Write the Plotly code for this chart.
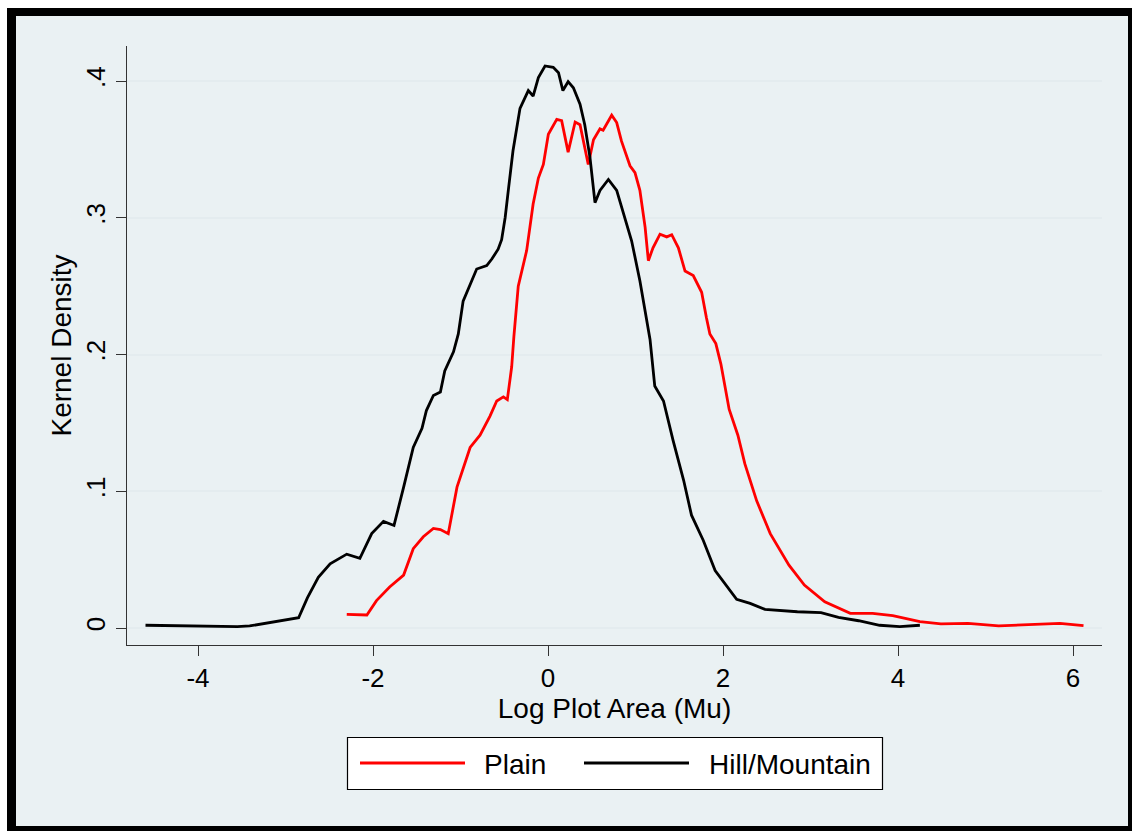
import plotly.graph_objects as go

# ---- data ----
plain_x = [-2.30, -2.07, -1.96, -1.81, -1.65, -1.54, -1.425, -1.31, -1.23, -1.14,
           -1.04, -0.89, -0.777, -0.663, -0.586, -0.51, -0.465, -0.415, -0.39, -0.358,
           -0.34, -0.244, -0.17, -0.11, -0.053, 0.004, 0.10, 0.156, 0.23, 0.31,
           0.366, 0.46, 0.52, 0.594, 0.63, 0.728, 0.785, 0.84, 0.937, 0.994,
           1.05, 1.11, 1.147, 1.20, 1.28, 1.357, 1.414, 1.49, 1.566, 1.66,
           1.756, 1.81, 1.85, 1.918, 1.976, 2.07, 2.17, 2.25, 2.385, 2.54,
           2.754, 2.93, 3.163, 3.455, 3.71, 3.94, 4.25, 4.49, 4.80, 5.15,
           5.34, 5.655, 5.85, 6.12]
plain_y = [0.010, 0.0095, 0.020, 0.030, 0.0387, 0.058, 0.0667, 0.0728, 0.072, 0.069,
           0.103, 0.132, 0.141, 0.155, 0.166, 0.169, 0.167, 0.191, 0.213, 0.239,
           0.250, 0.276, 0.310, 0.329, 0.339, 0.361, 0.372, 0.371, 0.348, 0.370,
           0.368, 0.339, 0.357, 0.365, 0.364, 0.375, 0.3696, 0.356, 0.338, 0.333,
           0.320, 0.293, 0.2686, 0.278, 0.288, 0.286, 0.2876, 0.278, 0.261, 0.2577,
           0.2455, 0.227, 0.215, 0.208, 0.193, 0.160, 0.141, 0.120, 0.093, 0.069,
           0.046, 0.0314, 0.0192, 0.0107, 0.0107, 0.009, 0.0046, 0.003, 0.0034, 0.0015,
           0.002, 0.003, 0.0034, 0.0017]

hill_x = [-4.60, -4.20, -3.90, -3.55, -3.41, -3.10, -2.85, -2.75, -2.625, -2.49,
          -2.30, -2.15, -2.015, -1.88, -1.76, -1.65, -1.54, -1.44, -1.39, -1.31,
          -1.23, -1.18, -1.08, -1.025, -0.97, -0.815, -0.70, -0.64, -0.57, -0.53,
          -0.49, -0.45, -0.40, -0.32, -0.225, -0.17, -0.11, -0.034, 0.06, 0.12,
          0.17, 0.23, 0.29, 0.366, 0.42, 0.48, 0.537, 0.594, 0.69, 0.785,
          0.88, 0.956, 1.05, 1.166, 1.22, 1.32, 1.43, 1.55, 1.64, 1.775,
          1.91, 2.02, 2.156, 2.31, 2.48, 2.85, 3.12, 3.32, 3.55, 3.79,
          4.02, 4.25]
hill_y = [0.002, 0.0015, 0.0015, 0.001, 0.0015, 0.005, 0.0075, 0.022, 0.037, 0.047,
          0.054, 0.051, 0.069, 0.078, 0.075, 0.103, 0.132, 0.146, 0.159, 0.170,
          0.1725, 0.188, 0.202, 0.215, 0.239, 0.2625, 0.265, 0.270, 0.277, 0.284,
          0.300, 0.322, 0.349, 0.380, 0.393, 0.389, 0.4025, 0.411, 0.410, 0.406,
          0.393, 0.3995, 0.395, 0.383, 0.368, 0.344, 0.311, 0.320, 0.328, 0.320,
          0.300, 0.283, 0.254, 0.211, 0.177, 0.166, 0.137, 0.108, 0.0825, 0.064,
          0.042, 0.0326, 0.021, 0.018, 0.0136, 0.0119, 0.0112, 0.0078, 0.0053, 0.002,
          0.001, 0.002]

series_names = ["Plain", "Hill/Mountain"]
series_colors = ["#ff0000", "#000000"]

x_ticks = [-4, -2, 0, 2, 4, 6]
x_ticktext = ["-4", "-2", "0", "2", "4", "6"]
y_ticks = [0, 0.1, 0.2, 0.3, 0.4]
y_ticktext = ["0", ".1", ".2", ".3", ".4"]

FONT = "Liberation Sans, Arial, sans-serif"
BG = "#eaf1f3"
GRID = "#e4ecef"

fig = go.Figure()
for xs, ys, nm, col in [(plain_x, plain_y, series_names[0], series_colors[0]),
                        (hill_x, hill_y, series_names[1], series_colors[1])]:
    fig.add_trace(go.Scatter(x=xs, y=ys, mode="lines", name=nm,
                             line=dict(color=col, width=2.8), showlegend=False))

W, H = 1134, 831
L, R, T, B = 127, 32, 46, 186
pw, ph = W - L - R, H - T - B


def px_x(p):
    return (p - L) / pw


def px_y(p):
    return (H - B - p) / ph


shapes = [
    # outer black frame + light graph region
    dict(type="rect", xref="paper", yref="paper", layer="below",
         x0=px_x(7), x1=px_x(1132), y0=px_y(840), y1=px_y(8),
         fillcolor="#000000", line=dict(width=0)),
    dict(type="rect", xref="paper", yref="paper", layer="below",
         x0=px_x(16), x1=px_x(1128), y0=px_y(826), y1=px_y(16),
         fillcolor=BG, line=dict(width=0)),
    # legend box
    dict(type="rect", xref="paper", yref="paper", layer="above",
         x0=px_x(347.5), x1=px_x(882.5), y0=px_y(789.5), y1=px_y(737.5),
         fillcolor="#ffffff", line=dict(color="#000000", width=1.2)),
]

annotations = []
legend_items = [(360, 465, 482), (584, 689, 707)]
for (lx0, lx1, tx), nm, col in zip(legend_items, series_names, series_colors):
    shapes.append(dict(type="line", xref="paper", yref="paper", layer="above",
                       x0=px_x(lx0), x1=px_x(lx1), y0=px_y(763), y1=px_y(763),
                       line=dict(color=col, width=2.8)))
    annotations.append(dict(text=nm, xref="paper", yref="paper",
                            x=px_x(tx), y=px_y(764), xanchor="left", yanchor="middle",
                            showarrow=False,
                            font=dict(family=FONT, size=28, color="#000000")))

fig.update_layout(
    width=W, height=H,
    margin=dict(l=L, r=R, t=T, b=B, pad=0),
    paper_bgcolor="#ffffff",
    plot_bgcolor="#ffffff",
    shapes=shapes,
    annotations=annotations,
    font=dict(family=FONT, color="#000000"),
    showlegend=False,
    xaxis=dict(range=[(127 - 548) / 87.5, (1102 - 548) / 87.5],
               tickvals=x_ticks, ticktext=x_ticktext,
               ticks="outside", ticklen=10, tickwidth=1.3, tickcolor="#333333",
               showline=True, linecolor="#333333", linewidth=1.3,
               showgrid=False, zeroline=False,
               tickfont=dict(family=FONT, size=26, color="#000000"),
               title=dict(text="Log Plot Area (Mu)", standoff=0,
                          font=dict(family=FONT, size=28, color="#000000"))),
    yaxis=dict(range=[(628 - 645) / 1367.5, (628 - 46) / 1367.5],
               tickvals=y_ticks, ticktext=y_ticktext, tickangle=-90,
               ticks="outside", ticklen=10, tickwidth=1.3, tickcolor="#333333",
               showline=True, linecolor="#333333", linewidth=1.3,
               showgrid=True, gridcolor=GRID, gridwidth=2, zeroline=False,
               tickfont=dict(family=FONT, size=26, color="#000000"),
               title=dict(text="Kernel Density", standoff=1,
                          font=dict(family=FONT, size=28, color="#000000"))),
)

fig.write_html("out.html")
